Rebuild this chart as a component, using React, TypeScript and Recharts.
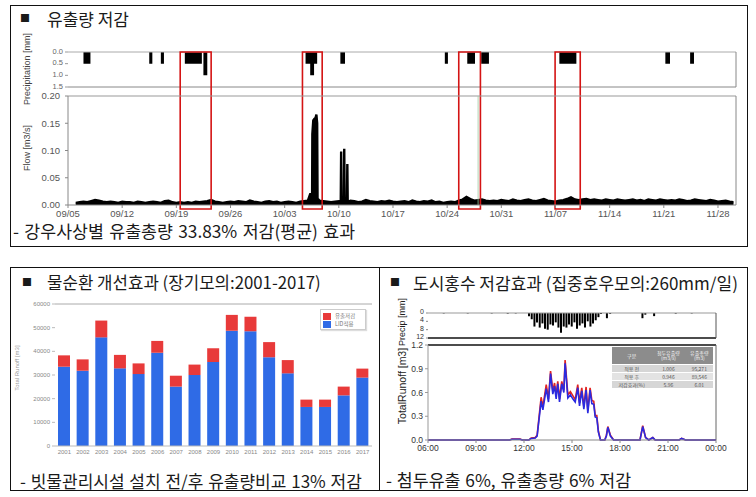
import React from 'react';
import {
  ComposedChart,
  BarChart,
  Area,
  Bar,
  Line,
  XAxis,
  YAxis,
  ReferenceArea,
  ReferenceLine,
} from 'recharts';

const KR = '"Noto Sans CJK KR", "Noto Sans", sans-serif';
const NUM = '"Liberation Sans", Arial, sans-serif';

// ---------------- Top panel: 유출량 저감 ----------------
const DAY_MAX = 86.33;
const dateTickDays = [0, 7, 14, 21, 28, 35, 42, 49, 56, 63, 70, 77, 84];
const dateTickLabels = ['09/05', '09/12', '09/19', '09/26', '10/03', '10/10', '10/17', '10/24', '10/31', '11/07', '11/14', '11/21', '11/28'];

// [day since 09/05, precipitation mm] (step series)
const topPrecip: [number, number][] = [
  [0, 0], [2.0, 0.5], [2.9, 0], [10.5, 0.5], [10.9, 0], [12.0, 0.5], [12.4, 0],
  [15.1, 0.5], [17.3, 0], [17.5, 1.0], [18.0, 0], [30.7, 0.5], [31.3, 1.0], [31.8, 0.5],
  [32.2, 0], [35.2, 0.5], [35.8, 0], [48.7, 0.5], [49.1, 0], [51.6, 0.5], [52.6, 0],
  [53.4, 0.5], [54.4, 0], [63.5, 0.5], [65.7, 0], [77.2, 0.5], [77.8, 0], [80.4, 0.5],
  [80.9, 0], [86.33, 0],
];

// flow baseline (m3/s), half-day steps starting day 1.0
const FLOW_START = 1.0;
const FLOW_STEP = 0.5;
const flowBase = [
  0.004, 0.005, 0.006, 0.005, 0.007, 0.009, 0.008, 0.006, 0.005, 0.006, 0.005, 0.004, 0.006, 0.005,
  0.005, 0.004, 0.006, 0.005, 0.004, 0.005, 0.006, 0.005, 0.004, 0.007, 0.008, 0.005, 0.004, 0.005,
  0.004, 0.005, 0.004, 0.006, 0.005, 0.006, 0.007, 0.009, 0.006, 0.005, 0.004, 0.005, 0.006, 0.005,
  0.007, 0.006, 0.005, 0.008, 0.006, 0.005, 0.004, 0.006, 0.007, 0.005, 0.006, 0.004, 0.005, 0.006,
  0.005, 0.004, 0.006, 0.007, 0.008, 0.022, 0.16, 0.008, 0.007, 0.006, 0.005, 0.006, 0.007, 0.006,
  0.006, 0.008, 0.007, 0.005, 0.006, 0.009, 0.007, 0.006, 0.005, 0.007, 0.006, 0.008, 0.006, 0.005,
  0.006, 0.007, 0.005, 0.008, 0.006, 0.005, 0.007, 0.006, 0.008, 0.005, 0.006, 0.004, 0.005, 0.006,
  0.005, 0.008, 0.010, 0.015, 0.011, 0.008, 0.009, 0.010, 0.008, 0.007, 0.008, 0.007, 0.009, 0.008,
  0.007, 0.010, 0.008, 0.007, 0.009, 0.010, 0.008, 0.007, 0.009, 0.011, 0.008, 0.007, 0.006, 0.008,
  0.009, 0.011, 0.014, 0.010, 0.009, 0.010, 0.011, 0.009, 0.010, 0.009, 0.008, 0.010, 0.009, 0.008,
  0.010, 0.009, 0.008, 0.009, 0.010, 0.008, 0.009, 0.007, 0.010, 0.009, 0.008, 0.010, 0.009, 0.008,
  0.009, 0.008, 0.010, 0.009, 0.007, 0.008, 0.010, 0.009, 0.008, 0.007, 0.009, 0.008, 0.006, 0.007,
  0.008, 0.006, 0.005,
];
// event peaks [day, m3/s]
const flowPeaks: [number, number][] = [
  [31.3, 0.02], [31.55, 0.022], [31.58, 0.13], [31.7, 0.155], [31.85, 0.158], [32.1, 0.166],
  [32.2, 0.15], [32.25, 0.012],
  [35.25, 0.005], [35.3, 0.098], [35.35, 0.005], [35.65, 0.005], [35.7, 0.103], [35.75, 0.005],
  [36.05, 0.005], [36.1, 0.075], [36.15, 0.005],
];
// red boxes: [start day, end day]
const eventWindows: [number, number][] = [[14.5, 18.5], [30.3, 32.85], [50.5, 53.3], [62.95, 66.2]];

// ---------------- Bottom-left: 물순환 개선효과 ----------------
const years = ['2001', '2002', '2003', '2004', '2005', '2006', '2007', '2008', '2009', '2010', '2011', '2012', '2013', '2014', '2015', '2016', '2017'];
const runoffAfter = [33500, 31800, 45900, 32800, 30400, 39400, 25100, 30000, 35500, 48700, 48500, 37500, 30700, 16500, 16500, 21400, 28900];
const runoffReduced = [4800, 4800, 7100, 5700, 4500, 5000, 4600, 4400, 5800, 6700, 6100, 6400, 5600, 3100, 3100, 3700, 3800];
const barTicks = [0, 10000, 20000, 30000, 40000, 50000, 60000];
const barSeriesNames = { reduced: '유출저감', after: 'LID적용' };
const BLUE = '#2f6be6';
const RED = '#e83a3a';

// ---------------- Bottom-right: 도시홍수 저감효과 ----------------
// [hour, precipitation mm]
const rain: [number, number][] = [
  [7.0, 0.2], [8.5, 0.2], [10.0, 0.2], [11.0, 0.3], [11.5, 0.2],
  [12.33, 1.5], [12.5, 3.0], [12.67, 6.5], [12.83, 4.5], [13.0, 7.0], [13.17, 5.0], [13.33, 7.5],
  [13.5, 8.0], [13.67, 5.5], [13.83, 6.0], [14.0, 4.5], [14.17, 7.0], [14.33, 9.5], [14.5, 6.5],
  [14.67, 7.0], [14.83, 5.5], [15.0, 6.5], [15.17, 4.5], [15.33, 7.5], [15.5, 6.0], [15.67, 5.0],
  [15.83, 7.0], [16.0, 4.0], [16.17, 6.5], [16.33, 5.0], [16.5, 3.5], [16.67, 2.0], [16.83, 0.5],
  [17.2, 2.5], [17.4, 0.4], [19.42, 2.5], [19.6, 0.8], [20.15, 1.5], [21.5, 0.3], [22.5, 0.2],
];
// [hour, before (red), after (blue)]
const runoff: [number, number, number][] = [
  [6, 0, 0], [11.1, 0, 0], [11.25, 0.012, 0.01], [11.75, 0.012, 0.01], [11.9, 0, 0], [12.3, 0, 0],
  [12.45, 0.025, 0.02], [12.7, 0.03, 0.025], [12.82, 0.06, 0.05], [13.07, 0.54, 0.49], [13.18, 0.42, 0.38],
  [13.39, 0.7, 0.65], [13.53, 0.52, 0.48], [13.66, 0.87, 0.84], [13.8, 0.62, 0.58], [13.91, 0.72, 0.68],
  [14.01, 0.56, 0.52], [14.11, 0.74, 0.71], [14.22, 0.52, 0.48], [14.36, 0.74, 0.71], [14.49, 0.63, 0.6],
  [14.57, 1.01, 0.97], [14.74, 0.57, 0.53], [14.9, 0.61, 0.57], [15.05, 0.56, 0.52], [15.2, 0.51, 0.48],
  [15.36, 0.7, 0.66], [15.47, 0.47, 0.43], [15.61, 0.66, 0.62], [15.74, 0.42, 0.39], [15.88, 0.67, 0.63],
  [15.99, 0.37, 0.34], [16.13, 0.66, 0.63], [16.24, 0.5, 0.46], [16.36, 0.49, 0.45], [16.45, 0.31, 0.29],
  [16.55, 0.31, 0.28], [16.65, 0.11, 0.1], [16.78, 0, 0], [17.05, 0, 0], [17.15, 0.06, 0.05],
  [17.24, 0.17, 0.16], [17.4, 0.06, 0.05], [17.6, 0, 0], [19.25, 0, 0], [19.42, 0.18, 0.17],
  [19.6, 0.03, 0.03], [19.8, 0, 0], [20.05, 0.03, 0.03], [20.2, 0, 0], [21.7, 0, 0], [21.85, 0.02, 0.02],
  [22.1, 0, 0], [24, 0, 0],
];
const hourTicks = [6, 9, 12, 15, 18, 21, 24];
const tableHeader = ['구분', '첨두유출량\n(m3/s)', '유출총량\n(m3)'];
const tableRows = [
  ['적용 전', '1.006', '95,271'],
  ['적용 후', '0.946', '89,546'],
  ['저감효과(%)', '5.96', '6.01'],
];

// ---------------- helpers ----------------
const Txt = ({ x, cy, size, children, color = '#1a1a1a', family = KR, weight = 400, spacing = 0 }: any) => (
  <div
    style={{
      position: 'absolute', left: x, top: cy - size * 0.5, fontSize: size, lineHeight: `${size}px`,
      color, fontFamily: family, fontWeight: weight, whiteSpace: 'pre', wordSpacing: spacing,
    }}
  >
    {children}
  </div>
);

const VText = ({ cx, cy, size, children, color = '#333', family = NUM, weight = 400 }: any) => (
  <div
    style={{
      position: 'absolute', left: cx, top: cy, transform: 'translate(-50%, -50%) rotate(-90deg)',
      fontSize: size, color, fontFamily: family, fontWeight: weight, whiteSpace: 'nowrap', lineHeight: 1,
    }}
  >
    {children}
  </div>
);

const Frame = ({ left, top, width, height }: any) => (
  <div style={{ position: 'absolute', left, top, width, height, border: '1.5px solid #111', boxSizing: 'border-box' }} />
);

export default function App() {
  const topPrecipData = topPrecip.map(([day, p]) => ({ day, p }));
  const flowData = [
    ...flowBase.map((q, i) => ({ day: FLOW_START + i * FLOW_STEP, q })),
    ...flowPeaks.map(([day, q]) => ({ day, q })),
  ].sort((a, b) => a.day - b.day);
  const barData = years.map((year, i) => ({ year, after: runoffAfter[i], reduced: runoffReduced[i] }));
  const rainData = rain.map(([h, p]) => ({ h, p }));
  const runoffData = runoff.map(([h, before, after]) => ({ h, before, after }));

  const numTick = (size: number, fill = '#555', dy = 0) => ({ fontSize: size, fill, fontFamily: NUM, dy });

  return (
    <div style={{ position: 'absolute', left: 0, top: 0, width: 756, height: 497, background: '#fff', overflow: 'hidden' }}>
      <Frame left={10} top={5} width={738} height={242} />
      <Frame left={10} top={267} width={370} height={224} />
      <Frame left={379} top={267} width={369} height={224} />

      {/* ---- top panel ---- */}
      <Txt x={20} cy={18} size={10} family={KR}>■</Txt>
      <Txt x={47} cy={18} size={17}>유출량 저감</Txt>
      <Txt x={13} cy={230.5} size={17.3} spacing={1.5}>- 강우사상별 유출총량 33.83% 저감(평균) 효과</Txt>
      <VText cx={27} cy={69} size={9} color="#444">Precipitation [mm]</VText>
      <VText cx={27} cy={148} size={9} color="#444">Flow [m3/s]</VText>

      <div style={{ position: 'absolute', left: 0, top: 40 }}>
        <ComposedChart width={756} height={56} data={topPrecipData} margin={{ top: 12, right: 20, bottom: 9, left: 30 }}>
          <XAxis type="number" dataKey="day" domain={[0, DAY_MAX]} hide allowDataOverflow />
          <YAxis
            type="number" domain={[0, 1.5]} reversed ticks={[0, 0.5, 1, 1.5]} interval={0} width={38}
            tickFormatter={(v: number) => v.toFixed(1)} tick={numTick(7.5, '#666', -1)} tickSize={3}
            tickLine={{ stroke: '#999' }} axisLine={false}
          />
          <Area type="stepAfter" dataKey="p" stroke="none" fill="#000" fillOpacity={1} isAnimationActive={false} dot={false} activeDot={false} />
          <ReferenceLine y={0} stroke="#aaa" />
          <ReferenceLine y={1.5} stroke="#888" />
          <ReferenceLine x={DAY_MAX} stroke="#888" />
        </ComposedChart>
      </div>

      <div style={{ position: 'absolute', left: 0, top: 40 }}>
        <ComposedChart width={756} height={184} data={flowData} margin={{ top: 56, right: 20, bottom: 5, left: 30 }}>
          <XAxis
            type="number" dataKey="day" domain={[0, DAY_MAX]} ticks={dateTickDays} interval={0}
            tickFormatter={(d: number) => dateTickLabels[dateTickDays.indexOf(d)] ?? ''}
            height={14} tick={numTick(9.5)} tickSize={3} tickMargin={2} axisLine={{ stroke: '#888' }} tickLine={{ stroke: '#888' }} allowDataOverflow
          />
          <YAxis
            type="number" domain={[0, 0.2]} ticks={[0, 0.05, 0.1, 0.15, 0.2]} interval={0} width={38}
            tickFormatter={(v: number) => v.toFixed(2)} tick={numTick(9.5)} tickSize={3} tickMargin={5}
            axisLine={{ stroke: '#888' }} tickLine={{ stroke: '#888' }} allowDataOverflow
          />
          <ReferenceLine y={0.2} stroke="#999" />
          <ReferenceLine x={DAY_MAX} stroke="#888" />
          <ReferenceLine x={53.0} stroke="#9fc79f" strokeWidth={0.8} />
          <Area type="linear" dataKey="q" stroke="#000" strokeWidth={2.4} fill="#000" fillOpacity={1} isAnimationActive={false} dot={false} activeDot={false} />
          {eventWindows.map(([a, b], i) => (
            <ReferenceArea
              key={i} x1={a} x2={b} y1={-0.0073} y2={0.2807} ifOverflow="visible"
              fill="none" fillOpacity={0} stroke="#d41414" strokeWidth={1.6}
            />
          ))}
        </ComposedChart>
      </div>

      {/* ---- bottom-left panel ---- */}
      <Txt x={22} cy={282} size={10}>■</Txt>
      <Txt x={47} cy={282} size={16.8}>물순환 개선효과 (장기모의:2001-2017)</Txt>
      <Txt x={20} cy={480} size={17} spacing={1}>- 빗물관리시설 설치 전/후 유출량비교 13% 저감</Txt>
      <VText cx={17} cy={368} size={6} color="#999">Total Runoff [m3]</VText>

      <div style={{ position: 'absolute', left: 0, top: 296 }}>
        <BarChart width={380} height={170} data={barData} margin={{ top: 8, right: 8, bottom: 8, left: 25 }}>
          <XAxis dataKey="year" height={12} tick={numTick(6, '#888')} tickSize={2} axisLine={{ stroke: '#bbb' }} tickLine={false} interval={0} />
          <YAxis
            domain={[0, 60000]} ticks={barTicks} interval={0} width={30} tick={numTick(6, '#888')}
            tickSize={3} axisLine={false} tickLine={{ stroke: '#bbb' }}
          />
          <YAxis yAxisId="frame" orientation="right" width={0} tick={false} tickLine={false} axisLine={{ stroke: '#bbb' }} />
          <ReferenceLine y={60000} stroke="#aaa" />
          <Bar dataKey="after" stackId="s" fill={BLUE} barSize={12} isAnimationActive={false} />
          <Bar dataKey="reduced" stackId="s" fill={RED} barSize={12} isAnimationActive={false} />
        </BarChart>
      </div>
      <div
        style={{
          position: 'absolute', left: 320, top: 309, width: 46, height: 21, border: '1px solid #ccc',
          background: '#fff', boxSizing: 'border-box', boxShadow: '1px 1px 1px #ddd', padding: '2px 2px',
        }}
      >
        {[['reduced', RED], ['after', BLUE]].map(([k, c]) => (
          <div key={k} style={{ display: 'flex', alignItems: 'center', height: 8.5 }}>
            <div style={{ width: 8, height: 7, background: c, marginRight: 4 }} />
            <span style={{ fontSize: 5.5, color: '#777', fontFamily: KR, lineHeight: 1 }}>{(barSeriesNames as any)[k]}</span>
          </div>
        ))}
      </div>

      {/* ---- bottom-right panel ---- */}
      <Txt x={390} cy={282} size={10}>■</Txt>
      <Txt x={413} cy={282} size={17}>도시홍수 저감효과 (집중호우모의:260mm/일)</Txt>
      <Txt x={386} cy={480} size={17.3} spacing={1}>- 첨두유출 6%, 유출총량 6% 저감</Txt>
      <VText cx={402} cy={322} size={9} color="#222">Precip [mm]</VText>
      <VText cx={402} cy={386} size={10.5} color="#222">TotalRunoff [m3]</VText>

      <div style={{ position: 'absolute', left: 379, top: 305 }}>
        <ComposedChart width={377} height={40} data={rainData} margin={{ top: 8, right: 40, bottom: 7, left: 25 }}>
          <XAxis type="number" dataKey="h" domain={[6, 24]} hide />
          <YAxis
            type="number" domain={[0, 12]} reversed ticks={[0, 4, 8, 12]} interval={0} width={24}
            tick={numTick(7, '#333', -1.5)} tickSize={2} axisLine={false} tickLine={{ stroke: '#888' }}
          />
          <ReferenceLine y={0} stroke="#999" />
          <Bar dataKey="p" fill="#000" barSize={2} isAnimationActive={false} />
          <ReferenceLine y={12} stroke="#111" strokeWidth={1.5} />
          <ReferenceLine x={24} stroke="#555" />
        </ComposedChart>
      </div>

      <div style={{ position: 'absolute', left: 379, top: 337 }}>
        <ComposedChart width={377} height={125} data={runoffData} margin={{ top: 8, right: 40, bottom: 8, left: 25 }}>
          <XAxis
            type="number" dataKey="h" domain={[6, 24]} ticks={hourTicks} interval={0}
            tickFormatter={(h: number) => (h === 24 ? '00:00' : `${String(h).padStart(2, '0')}:00`)}
            height={14} tick={numTick(8.5, '#333')} tickSize={3} axisLine={{ stroke: '#888' }} tickLine={{ stroke: '#888' }}
          />
          <YAxis
            type="number" domain={[0, 1.2]} ticks={[0, 0.3, 0.6, 0.9, 1.2]} interval={0} width={24}
            tickFormatter={(v: number) => v.toFixed(1)} tick={numTick(8.5, '#333')} tickSize={3}
            axisLine={{ stroke: '#999' }} tickLine={{ stroke: '#999' }}
          />
          <ReferenceLine y={1.2} stroke="#111" strokeWidth={1.5} />
          <ReferenceLine x={24} stroke="#666" />
          <Line type="linear" dataKey="before" stroke="#e02222" strokeWidth={1.6} dot={false} activeDot={false} isAnimationActive={false} />
          <Line type="linear" dataKey="after" stroke="#2a2ae0" strokeWidth={1.6} dot={false} activeDot={false} isAnimationActive={false} />
        </ComposedChart>
      </div>

      <table
        style={{
          position: 'absolute', left: 612, top: 347, width: 101, borderCollapse: 'collapse',
          fontFamily: KR, fontSize: 5, color: '#555', textAlign: 'center',
        }}
      >
        <thead>
          <tr style={{ background: '#8c8c8c', color: '#f2f2f2', height: 17 }}>
            {tableHeader.map((h, i) => (
              <th key={i} style={{ fontWeight: 400, whiteSpace: 'pre', padding: 0, lineHeight: 1.1 }}>{h}</th>
            ))}
          </tr>
        </thead>
        <tbody>
          {tableRows.map((r, i) => (
            <tr key={i} style={{ background: i % 2 ? '#e3e3e3' : '#d6d6d6', height: 8, borderTop: '1px solid #fff' }}>
              {r.map((c, j) => (
                <td key={j} style={{ padding: 0, lineHeight: 1 }}>{c}</td>
              ))}
            </tr>
          ))}
        </tbody>
      </table>
    </div>
  );
}
